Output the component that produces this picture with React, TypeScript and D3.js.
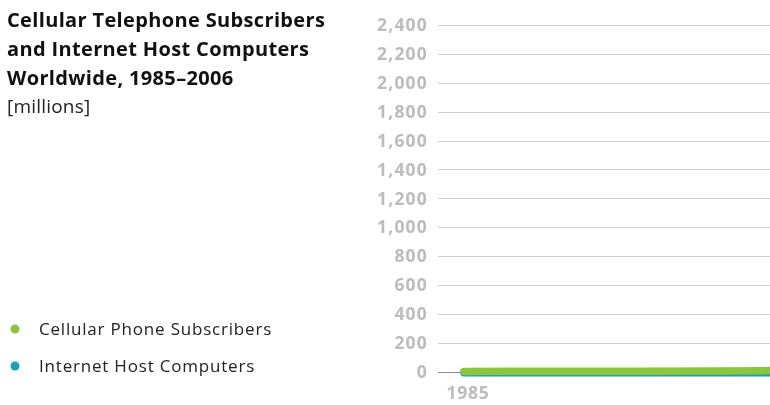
import React, { useEffect, useRef } from 'react';
import * as d3 from 'd3';

// years 1985-2006, values in millions
const years = d3.range(1985, 2007);
const cellular = [
  0.75, 1.4, 2.4, 4.3, 7.3, 11.2, 16.2, 23.2, 34.2, 55.5, 90.6, 145, 215, 318, 490, 740, 955, 1155, 1410,
  1760, 2170, 2380,
];
const hosts = [
  0.002, 0.005, 0.028, 0.056, 0.16, 0.31, 0.62, 1.1, 1.8, 3.2, 6.6, 14.4, 19.5, 36.7, 56.2, 93, 125.9, 162,
  171.6, 285, 353, 439,
];
const yTicks = [0, 200, 400, 600, 800, 1000, 1200, 1400, 1600, 1800, 2000, 2200, 2400];
const xTicks = [1985];
const titleLines = ['Cellular Telephone Subscribers', 'and Internet Host Computers', 'Worldwide, 1985–2006'];
const legendItems = [
  { label: 'Cellular Phone Subscribers', color: '#8cc63f' },
  { label: 'Internet Host Computers', color: '#17a2b6' },
];

const App = () => {
  const svgRef = useRef<SVGSVGElement>(null);

  useEffect(() => {
    const svg = d3.select(svgRef.current);
    svg.selectAll('*').remove();
    const width = 770;
    const height = 405;
    svg.attr('width', width).attr('height', height);

    // the plot runs on past the right edge, only the start is in view
    const x = d3.scaleLinear().domain([1985, 2006]).range([464, 464 + 21 * 85]);
    const y = d3.scaleLinear().domain([0, 2400]).range([371.5, 25]);

    // grid
    svg
      .append('g')
      .selectAll('line')
      .data(yTicks)
      .enter()
      .append('line')
      .attr('x1', 438)
      .attr('x2', width)
      .attr('y1', (d) => Math.round(y(d)) + 0.5)
      .attr('y2', (d) => Math.round(y(d)) + 0.5)
      .style('stroke', (d) => (d === 0 ? '#8a8a8a' : '#d2d2d2'))
      .style('stroke-width', 1);

    svg
      .append('g')
      .selectAll('text')
      .data(yTicks)
      .enter()
      .append('text')
      .attr('x', 428)
      .attr('y', (d) => y(d))
      .attr('dy', '0.36em')
      .attr('text-anchor', 'end')
      .text((d) => d3.format(',')(d))
      .style('font-family', 'Open Sans')
      .style('font-weight', 700)
      .style('font-size', '17.5px')
      .style('letter-spacing', '1.2px')
      .style('fill', '#bcbcbe');

    svg
      .append('g')
      .selectAll('text')
      .data(xTicks)
      .enter()
      .append('text')
      .attr('x', (d) => x(d) + 4)
      .attr('y', 399)
      .attr('text-anchor', 'middle')
      .text((d) => d)
      .style('font-family', 'Open Sans')
      .style('font-weight', 700)
      .style('font-size', '17.5px')
      .style('letter-spacing', '0.8px')
      .style('fill', '#bcbcbe');

    const line = d3
      .line<number>()
      .x((d, i) => x(years[i]))
      .y((d) => y(d));

    [hosts, cellular].forEach((series, i) => {
      svg
        .append('path')
        .datum(series)
        .attr('d', line)
        .style('fill', 'none')
        .style('stroke', legendItems[1 - i].color)
        .style('stroke-width', 7.5)
        .style('stroke-linecap', 'round')
        .style('stroke-linejoin', 'round')
        .attr('transform', i === 0 ? 'translate(0,1.2)' : null);
    });

    // title
    const title = svg.append('text').style('font-family', 'Open Sans').style('fill', '#111');
    titleLines.forEach((t, i) => {
      title
        .append('tspan')
        .attr('x', 7)
        .attr('y', 27 + i * 29)
        .text(t)
        .style('font-weight', 700)
        .style('font-size', '20px')
        .style('letter-spacing', '0.35px');
    });
    svg
      .append('text')
      .attr('x', 7)
      .attr('y', 113)
      .text('[millions]')
      .style('font-family', 'Open Sans')
      .style('font-size', '19px')
      .style('letter-spacing', '0.2px')
      .style('fill', '#222');

    // legend
    const legend = svg
      .append('g')
      .selectAll('g')
      .data(legendItems)
      .enter()
      .append('g')
      .attr('transform', (d, i) => `translate(15,${329 + i * 37})`);
    legend.append('circle').attr('r', 4.5).style('fill', (d) => d.color);
    legend
      .append('text')
      .attr('x', 24)
      .attr('y', 5.5)
      .text((d) => d.label)
      .style('font-family', 'Open Sans')
      .style('font-size', '17px')
      .style('letter-spacing', '0.8px')
      .style('fill', '#222');
  }, []);

  return (
    <div style={{ position: 'fixed', left: 0, top: 0 }}>
      <svg ref={svgRef}></svg>
    </div>
  );
};

export default App;
